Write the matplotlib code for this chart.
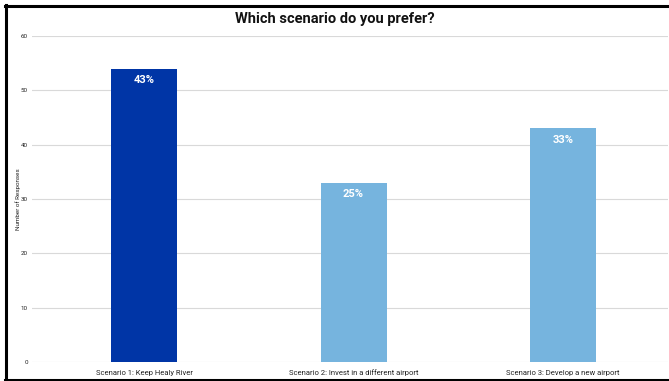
import matplotlib.pyplot as plt
from matplotlib.lines import Line2D
from matplotlib.transforms import blended_transform_factory

categories = ['Scenario 1: Keep Healy River',
              'Scenario 2: Invest in a different airport',
              'Scenario 3: Develop a new airport']
responses = [54, 33, 43]
pct_labels = ['43%', '25%', '33%']
yticks = [0, 10, 20, 30, 40, 50, 60]

W, H = 669, 381
plt.rcParams['font.family'] = 'Roboto'
fig = plt.figure(figsize=(W / 100, H / 100), dpi=100)

# axes box in pixels: left 32, right 668, bottom y=362, top y=36
ax = fig.add_axes([32 / W, (H - 362) / H, (668 - 32) / W, (362 - 36) / H])
colors = ['#0035A6', '#76B4DE', '#76B4DE']
x = range(len(categories))
bars = ax.bar(x, responses, width=0.315, color=colors, zorder=3)

for b, lab in zip(bars, pct_labels):
    ax.text(b.get_x() + b.get_width() / 2, b.get_height() - 1.2, lab,
            ha='center', va='top', color='white', fontsize=8, fontweight='bold', zorder=4)

ax.set_xlim(-0.535, 2.501)
ax.set_ylim(0, 60)
ax.set_yticks(yticks)
ax.set_xticks(list(x))
ax.set_xticklabels([])
trans = blended_transform_factory(ax.transData, ax.transAxes)
for i, cat in enumerate(categories):
    ax.text(i, -13.5 / 326, cat, transform=trans, ha='center', va='baseline',
            fontsize=5.5, color='#222222')
ax.tick_params(axis='y', labelsize=4.5, length=0, pad=3, labelcolor='#222222')
ax.tick_params(axis='x', length=0)
ax.grid(axis='y', color='#d9d9d9', linewidth=0.8, zorder=0)
for s in ax.spines.values():
    s.set_visible(False)
ax.yaxis.set_label_coords(-11 / (668 - 32), 0.5)
ax.set_ylabel('Number of Responses', fontsize=4.5, color='#222222')

fig.text(0.5, (H - 19) / H, 'Which scenario do you prefer?', ha='center', va='center',
         fontsize=10.5, fontweight='bold', color='#111111')

# black frame (left, top, bottom)
lw = 2.2
fig.add_artist(Line2D([6.5 / W, 6.5 / W], [0, 1 - 4.5 / H], color='black', lw=lw))
fig.add_artist(Line2D([5 / W, 1], [1 - 5.5 / H, 1 - 5.5 / H], color='black', lw=lw))
fig.add_artist(Line2D([5 / W, 1], [1.5 / H, 1.5 / H], color='black', lw=lw))

fig.savefig('out.png', dpi=100)
